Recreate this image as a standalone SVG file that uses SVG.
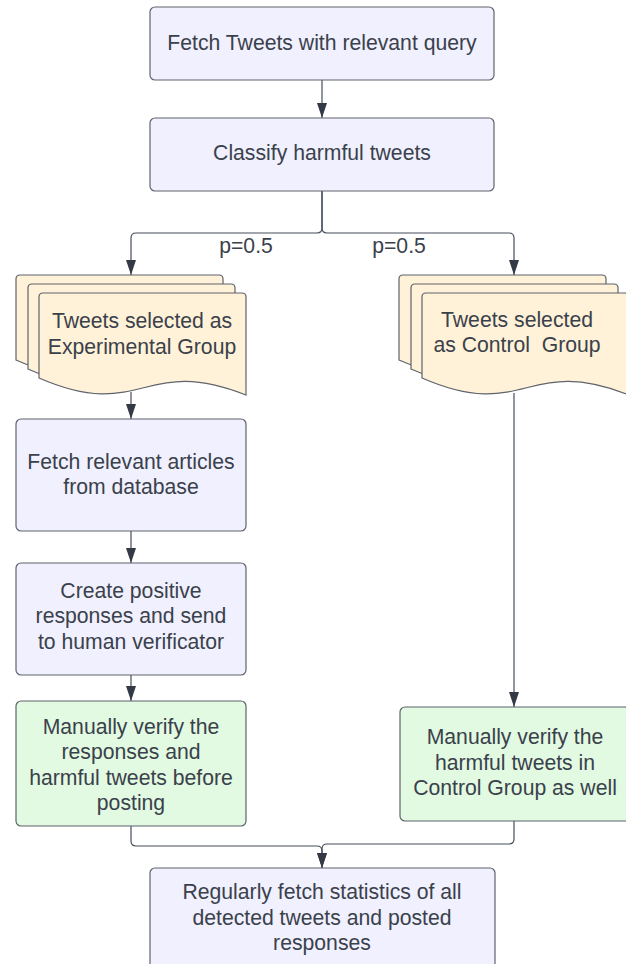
<svg xmlns="http://www.w3.org/2000/svg" width="626" height="964" viewBox="0 0 626 964">
<style>
.box{fill:#f0f0fe;stroke:#5f636c;stroke-width:1.2}
.doc{fill:#fff2d8;stroke:#5f636c;stroke-width:1.2}
.grn{fill:#e2f9e2;stroke:#5f636c;stroke-width:1.2}
.t{font-family:"Liberation Sans",Arial,sans-serif;font-size:21.2px;fill:#3a414b;text-anchor:middle;white-space:pre}
.c{fill:none;stroke:#474e5a;stroke-width:1.2}
</style>
<defs>
<marker id="ah" viewBox="0 0 15 10" refX="15" refY="5" markerWidth="15" markerHeight="10" markerUnits="userSpaceOnUse" orient="auto">
<path d="M0,0 L15,5 L0,10 z" fill="#343a45"/>
</marker>
</defs>
<rect width="626" height="964" fill="#ffffff"/>
<g id="connectors">
<path class="c" d="M322,80 V118" marker-end="url(#ah)"/>
<path class="c" d="M322,191 V228 Q322,233 317,233 H136 Q131,233 131,238 V275" marker-end="url(#ah)"/>
<path class="c" d="M322,191 V228 Q322,233 327,233 H509 Q514,233 514,238 V275" marker-end="url(#ah)"/>
<path class="c" d="M131,392 V419" marker-end="url(#ah)"/>
<path class="c" d="M131,531 V563" marker-end="url(#ah)"/>
<path class="c" d="M131,675 V701" marker-end="url(#ah)"/>
<path class="c" d="M514,393 V707" marker-end="url(#ah)"/>
<path class="c" d="M131,826 V841 Q131,846 136,846 H317 Q322,846 322,851 V868" marker-end="url(#ah)"/>
<path class="c" d="M514,821 V839 Q514,844 509,844 H327 Q322,844 322,849 V868" marker-end="url(#ah)"/>
<text class="t" x="246" y="253">p=0.5</text>
<text class="t" x="399" y="253">p=0.5</text>
</g>
<g id="n1">
<rect class="box" x="150" y="7" width="344" height="73" rx="5"/>
<text class="t" x="322" y="50">Fetch Tweets with relevant query</text>
</g>
<g id="n2">
<rect class="box" x="150" y="118" width="344" height="73" rx="5"/>
<text class="t" x="322" y="160">Classify harmful tweets</text>
</g>
<g id="n3">
<path class="doc" d="M16,360 V279 Q16,275 20,275 H219 Q223,275 223,279 V376 C119.5,336 119.5,406 16,360 z"/>
<path class="doc" d="M28,369 V288 Q28,284 32,284 H231 Q235,284 235,288 V385 C131.5,345 131.5,415 28,369 z"/>
<path class="doc" d="M39,378 V297 Q39,293 43,293 H242 Q246,293 246,297 V395 C142.5,354 142.5,423 39,378 z"/>
<text class="t" x="142" y="328">Tweets selected as</text>
<text class="t" x="142" y="353.5">Experimental Group</text>
</g>
<g id="n4">
<path class="doc" d="M399,360 V279 Q399,275 403,275 H602 Q606,275 606,279 V377 C502.5,336 502.5,405 399,360 z"/>
<path class="doc" d="M411,369 V288 Q411,284 415,284 H614 Q618,284 618,288 V386 C514.5,345 514.5,414 411,369 z"/>
<path class="doc" d="M422,378 V297 Q422,293 426,293 H625 Q629,293 629,297 V395 C525.5,354 525.5,423 422,378 z"/>
<text class="t" x="517" y="327">Tweets selected</text>
<text class="t" x="517" y="352">as Control  Group</text>
</g>
<g id="n5">
<rect class="box" x="16" y="419" width="230" height="112" rx="5"/>
<text class="t" x="131" y="468.5">Fetch relevant articles</text>
<text class="t" x="131" y="494">from database</text>
</g>
<g id="n6">
<rect class="box" x="16" y="563" width="230" height="112" rx="5"/>
<text class="t" x="131" y="597.5">Create positive</text>
<text class="t" x="131" y="623">responses and send</text>
<text class="t" x="131" y="648.5">to human verificator</text>
</g>
<g id="n7">
<rect class="grn" x="16" y="701" width="230" height="125" rx="5"/>
<text class="t" x="131" y="733.5">Manually verify the</text>
<text class="t" x="131" y="759">responses and</text>
<text class="t" x="131" y="784.5">harmful tweets before</text>
<text class="t" x="131" y="810">posting</text>
</g>
<g id="n8">
<rect class="grn" x="400" y="707" width="230" height="114" rx="5"/>
<text class="t" x="515" y="744">Manually verify the</text>
<text class="t" x="515" y="769.5">harmful tweets in</text>
<text class="t" x="515" y="795">Control Group as well</text>
</g>
<g id="n9">
<rect class="box" x="150" y="868" width="345" height="110" rx="5"/>
<text class="t" x="322" y="899">Regularly fetch statistics of all</text>
<text class="t" x="322" y="924.5">detected tweets and posted</text>
<text class="t" x="322" y="950">responses</text>
</g>
</svg>
